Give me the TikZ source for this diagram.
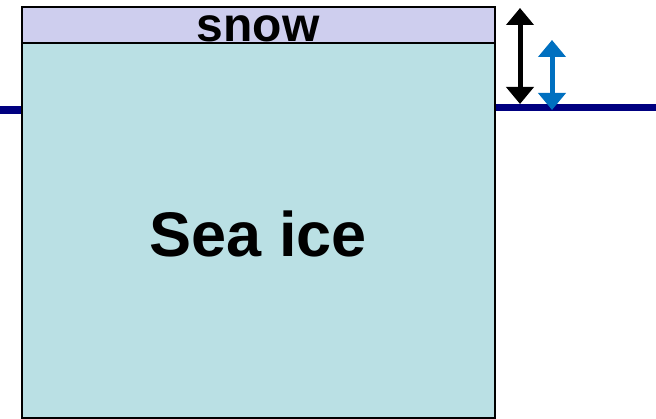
\documentclass[tikz,border=0pt]{standalone}
\usepackage{fontspec}
\setmainfont{Liberation Sans}
\usetikzlibrary{arrows.meta}
\definecolor{snowfill}{RGB}{206,206,238}
\definecolor{icefill}{RGB}{186,224,228}
\definecolor{water}{RGB}{0,0,128}
\definecolor{arrowblue}{RGB}{0,112,192}
\tikzset{
  layer/.style={draw=black, line width=1.8pt, inner sep=0pt, minimum width=473pt},
  waterline/.style={draw=water, line width=7.5pt},
  thick arrow/.style={line width=5pt, {Triangle[width=27pt 0 0,length=17pt 0 0]}-{Triangle[width=27pt 0 0,length=17pt 0 0]}},
}
\begin{document}
\begin{tikzpicture}[x=1pt,y=-1pt]
\useasboundingbox (0,0) rectangle (656,419);
\coordinate (wl) at (0,110);
\coordinate (wr) at (656,107.5);
\node[layer, fill=icefill, minimum height=375pt] (ice) at (258.5,230.5) {};
\node[layer, fill=snowfill, minimum height=36pt] (snow) at (258.5,25) {};
\draw[waterline] (wl) -- (wl -| ice.west);
\draw[waterline] (wr -| ice.east) -- (wr);
\node[anchor=base, font=\bfseries\fontsize{48}{48}\selectfont, inner sep=0pt] (snowlabel) at (258,42) {snow};
\node[anchor=base, font=\bfseries\fontsize{63}{63}\selectfont, inner sep=0pt] (icelabel) at (258.5,257) {Sea ice};
\coordinate (ba1) at (520,8);
\coordinate (ba2) at (520,104);
\coordinate (bb1) at (552,40);
\coordinate (bb2) at (552,110);
\draw[thick arrow, draw=black, fill=black] (ba1) -- (ba2);
\draw[thick arrow, draw=arrowblue, fill=arrowblue] (bb1) -- (bb2);
\end{tikzpicture}
\end{document}
